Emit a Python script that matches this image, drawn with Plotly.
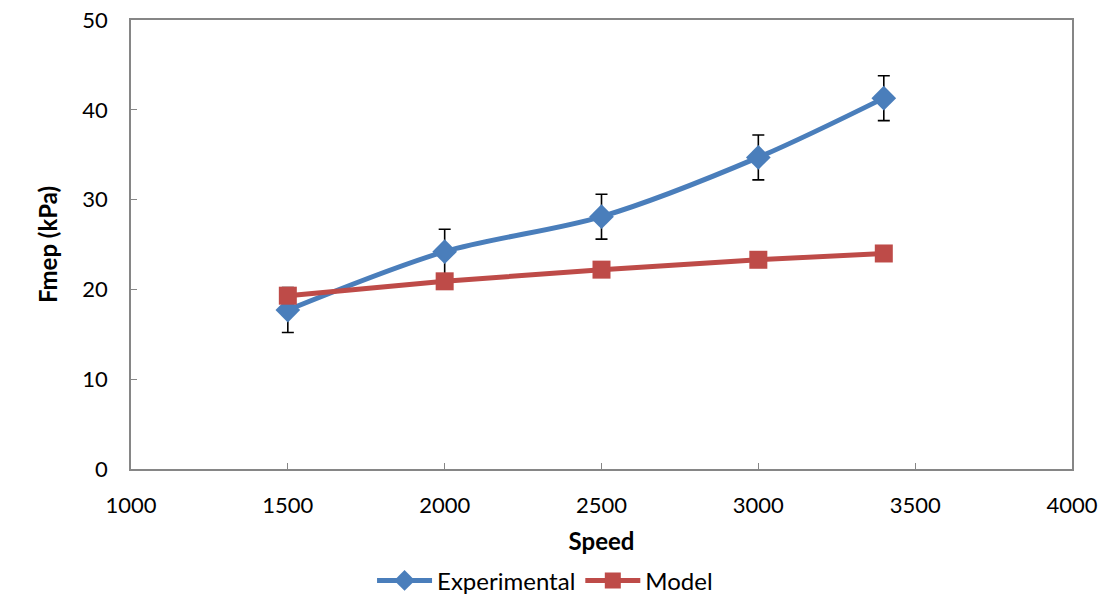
import plotly.graph_objects as go

# Engine speed (rpm)
speed = [1500, 2000, 2500, 3000, 3400]

# Friction mean effective pressure (kPa)
fmep_experimental = [17.7, 24.2, 28.1, 34.7, 41.3]
fmep_error = [2.5, 2.5, 2.5, 2.5, 2.5]
fmep_model = [19.3, 20.9, 22.2, 23.3, 24.0]

x_ticks = [1000, 1500, 2000, 2500, 3000, 3500, 4000]
y_ticks = [0, 10, 20, 30, 40, 50]

blue = "#4A7EBB"
red = "#BE4B48"
axis_grey = "#868686"
font_family = "Lato, 'Open Sans', 'Liberation Sans', sans-serif"

fig = go.Figure()

fig.add_trace(go.Scatter(
    x=speed, y=fmep_experimental, name="Experimental",
    mode="lines+markers",
    line=dict(color=blue, width=5, shape="spline", smoothing=0.9),
    marker=dict(symbol="diamond", size=19, color=blue),
    error_y=dict(type="data", array=fmep_error, visible=True,
                 color="black", thickness=1.6, width=6),
))

fig.add_trace(go.Scatter(
    x=speed, y=fmep_model, name="Model",
    mode="lines+markers",
    line=dict(color=red, width=5),
    marker=dict(symbol="square", size=18, color=red),
))

fig.update_layout(
    width=1108, height=597,
    margin=dict(l=131, r=36, t=20, b=128, autoexpand=False),
    paper_bgcolor="white", plot_bgcolor="white",
    font=dict(family=font_family, size=22, color="black"),
    showlegend=True,
    legend=dict(orientation="h", x=0.44, xanchor="center",
                y=-0.249, yanchor="middle",
                font=dict(size=24), itemwidth=55, traceorder="normal"),
)

fig.update_xaxes(
    range=[1000, 4000], tickvals=x_ticks, ticktext=[str(v) for v in x_ticks],
    showgrid=False, zeroline=False, automargin=False,
    showline=True, linecolor=axis_grey, linewidth=1.5, mirror=True,
    ticks="inside", ticklen=6, tickcolor=axis_grey,
    tickfont=dict(size=22), ticklabelstandoff=16,
    title=dict(text="<b>Speed</b>", font=dict(size=24), standoff=16),
)

fig.update_yaxes(
    range=[0, 50], tickvals=y_ticks,
    showgrid=False, zeroline=False, automargin=False,
    showline=True, linecolor=axis_grey, linewidth=1.5, mirror=True,
    ticks="inside", ticklen=6, tickcolor=axis_grey,
    tickfont=dict(size=22), ticklabelstandoff=17,
    title=dict(text="<b>Fmep (kPa)</b>", font=dict(size=24), standoff=18),
)

fig.write_html("out.html")
